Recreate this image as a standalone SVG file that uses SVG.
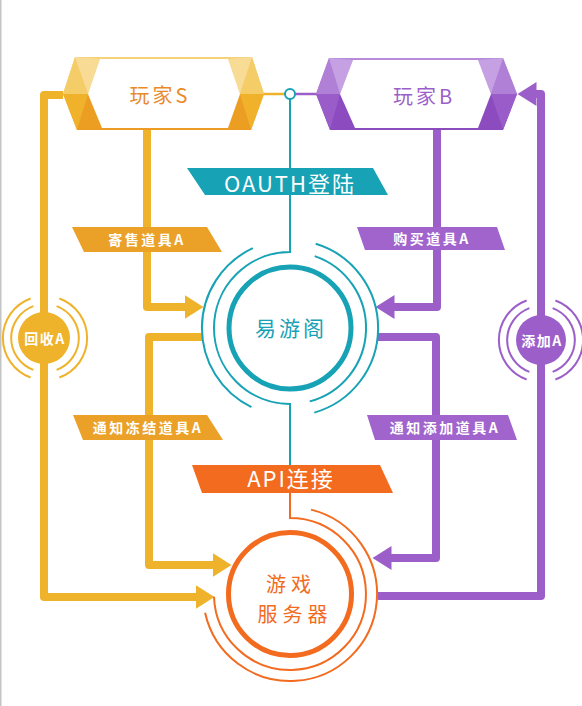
<svg xmlns="http://www.w3.org/2000/svg" width="582" height="706" viewBox="0 0 582 706">
<defs>
<style>
.t{font-family:"Noto Sans CJK SC","Noto Sans",sans-serif;text-anchor:middle}
.lbl{font-size:14px;font-weight:bold;fill:#fff;letter-spacing:2.5px}
.big{font-size:22px;fill:#fff;letter-spacing:2px}
.gl{fill:none;stroke:#efb32b;stroke-width:8;stroke-linejoin:round}
.pl{fill:none;stroke:#9c5fca;stroke-width:8;stroke-linejoin:round}
.tl{fill:none;stroke:#17a2b5;stroke-width:2}
.ol{fill:none;stroke:#f26b1f;stroke-width:2}
</style>
<marker id="ag" markerUnits="userSpaceOnUse" markerWidth="20" markerHeight="26" refX="0.5" refY="12.5" orient="auto"><path d="M0,0.5 L19,12.5 L0,24.5 z" fill="#efb32b"/></marker>
<marker id="ap" markerUnits="userSpaceOnUse" markerWidth="20" markerHeight="26" refX="0.5" refY="12.5" orient="auto"><path d="M0,0.5 L19,12.5 L0,24.5 z" fill="#9c5fca"/></marker>
<linearGradient id="gS" x1="0" y1="0" x2="0" y2="1"><stop offset="0" stop-color="#f6d27a"/><stop offset="1" stop-color="#ec9b23"/></linearGradient>
<linearGradient id="gB" x1="0" y1="0" x2="0" y2="1"><stop offset="0" stop-color="#b88bdb"/><stop offset="1" stop-color="#8a4bbd"/></linearGradient>
</defs>
<rect width="582" height="706" fill="#fff"/>
<rect x="0" y="0" width="1.5" height="706" fill="#c4c4c4"/>

<g id="connectors">
<path class="gl" d="M147,130 L147,307 L185,307" marker-end="url(#ag)"/>
<path class="gl" d="M202,337 L149,337 L149,565 L213,565" marker-end="url(#ag)"/>
<path class="gl" d="M63,95 L44,95 L44,597 L196,597" marker-end="url(#ag)"/>
<path class="pl" d="M437,130 L437,307 L394,307" marker-end="url(#ap)"/>
<path class="pl" d="M378,337 L436,337 L436,558 L391,558" marker-end="url(#ap)"/>
<path class="pl" d="M378,596 L541,596 L541,94 L536,94" marker-end="url(#ap)"/>
<path d="M262,94 L285,94" stroke="#efb32b" stroke-width="2.5"/>
<path d="M295,94 L318,94" stroke="#9c5fca" stroke-width="2.5"/>
<path class="tl" d="M290,99 L290,252 A76,76 0 0 0 290,404 L290,466"/>
<path class="ol" d="M290,492 L290,518 A76,76 0 1 1 214,596.7"/>
<circle cx="290" cy="94" r="5" fill="#fff" stroke="#17a2b5" stroke-width="2"/>
</g>

<g id="playerS">
<polygon points="75,57 252,57 264,94 251,130 77,130 63,94" fill="url(#gS)"/>
<polygon points="75,57 63,94 88,94" fill="#f5cd68"/>
<polygon points="75,57 100,59 88,94" fill="#f8dc96"/>
<polygon points="63,94 88,94 77,130" fill="#f0b22b"/>
<polygon points="88,94 102,128 77,130" fill="#eb9e22"/>
<polygon points="252,57 264,94 240,94" fill="#f5cd68"/>
<polygon points="252,57 228,59 240,94" fill="#f8dc96"/>
<polygon points="264,94 240,94 251,130" fill="#f0b22b"/>
<polygon points="240,94 228,128 251,130" fill="#eb9e22"/>
<polygon points="100,59 228,59 240,94 228,128 102,128 88,94" fill="#fff"/>
<text class="t" x="160" y="103" font-size="20" fill="#e8892a" letter-spacing="3">玩家S</text>
</g>

<g id="playerB">
<polygon points="329,58 503,58 517,94 503,130 330,130 316,94" fill="url(#gB)"/>
<polygon points="329,58 316,94 340,94" fill="#b07fd6"/>
<polygon points="329,58 353,60 340,94" fill="#c5a0e2"/>
<polygon points="316,94 340,94 330,130" fill="#9a5cc9"/>
<polygon points="340,94 355,128 330,130" fill="#8c4bbf"/>
<polygon points="503,58 517,94 491,94" fill="#b07fd6"/>
<polygon points="503,58 478,60 491,94" fill="#c5a0e2"/>
<polygon points="517,94 491,94 503,130" fill="#9a5cc9"/>
<polygon points="491,94 478,128 503,130" fill="#8c4bbf"/>
<polygon points="353,60 478,60 491,94 478,128 355,128 340,94" fill="#fff"/>
<text class="t" x="424" y="104" font-size="20" fill="#9c5fca" letter-spacing="3">玩家B</text>
</g>

<g id="oauth">
<polygon points="187,168 373,168 388,195 205,195" fill="#17a2b5"/>
<text class="t big" x="290" y="192">OAUTH登陆</text>
</g>

<g id="label-sell">
<polygon points="72,227 207,227 222,252 84,252" fill="#eba127"/>
<text class="t lbl" x="147" y="245">寄售道具A</text>
</g>

<g id="label-buy">
<polygon points="357,227 497,227 505,250 365,250" fill="#a163cc"/>
<text class="t lbl" x="432" y="244">购买道具A</text>
</g>

<g id="yiyouge">
<circle cx="290" cy="328" r="61" fill="#fff" stroke="#17a2b5" stroke-width="5"/>
<path class="tl" d="M314.7,256.1 A76,76 0 0 1 309.7,401.4"/>
<path class="tl" d="M252.8,248.2 A88,88 0 0 0 251.4,407.1"/>
<path class="tl" d="M315.7,243.8 A88,88 0 0 1 314.3,412.6"/>
<text class="t" x="291" y="336" font-size="21" fill="#17a2b5" letter-spacing="3">易游阁</text>
</g>

<g id="recycle">
<circle cx="44" cy="338" r="26" fill="#efb32b"/>
<path fill="none" stroke="#efb32b" stroke-width="2" d="M33.4,306.1 A34,34 0 0 0 33.4,369.9 M56.6,306.1 A34,34 0 0 1 56.6,369.9 M30.6,298.5 A42,42 0 0 0 30.6,377.5 M59.4,298.5 A42,42 0 0 1 59.4,377.5"/>
<text class="t" x="45" y="344" font-size="14" font-weight="bold" fill="#fff" letter-spacing="1.5">回收A</text>
</g>

<g id="add">
<circle cx="541" cy="340" r="25" fill="#9c5fca"/>
<path fill="none" stroke="#9c5fca" stroke-width="2" d="M529.4,308.1 A34,34 0 0 0 529.4,371.9 M552.6,308.1 A34,34 0 0 1 552.6,371.9 M526.6,300.5 A42,42 0 0 0 526.6,379.5 M555.4,300.5 A42,42 0 0 1 555.4,379.5"/>
<text class="t" x="542" y="346" font-size="14" font-weight="bold" fill="#fff" letter-spacing="1.5">添加A</text>
</g>

<g id="label-freeze">
<polygon points="73,415 207,415 223,440 83,440" fill="#eba127"/>
<text class="t lbl" x="148" y="433">通知冻结道具A</text>
</g>

<g id="label-notify-add">
<polygon points="367,415 508,415 517,440 375,440" fill="#a163cc"/>
<text class="t lbl" x="445" y="433">通知添加道具A</text>
</g>

<g id="api">
<polygon points="192,465 380,465 393,493 202,493" fill="#f36b1f"/>
<text class="t big" x="291" y="487">API连接</text>
</g>

<g id="server">
<circle cx="290" cy="594" r="61.5" fill="#fff" stroke="#f26b1f" stroke-width="5"/>
<path class="ol" d="M311,509.6 A87,87 0 1 1 205.1,612.8"/>
<text class="t" x="291" y="592" font-size="20" fill="#f26b1f" letter-spacing="5">游戏</text>
<text class="t" x="295" y="622" font-size="20" fill="#f26b1f" letter-spacing="5">服务器</text>
</g>
</svg>
